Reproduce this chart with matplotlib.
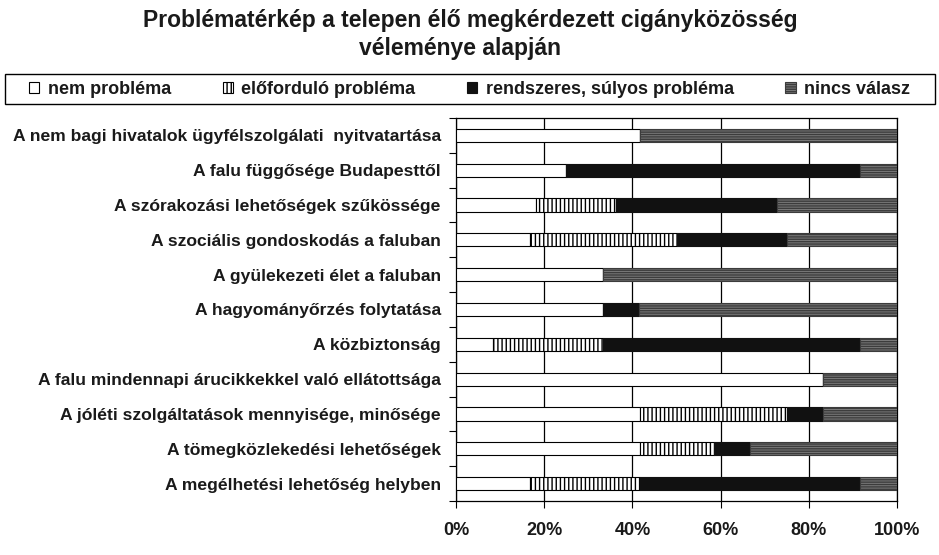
import matplotlib
matplotlib.use("Agg")
import matplotlib.pyplot as plt
from matplotlib.patches import Patch, Rectangle
import numpy as np

categories = [
    "A nem bagi hivatalok ügyfélszolgálati  nyitvatartása",
    "A falu függősége Budapesttől",
    "A szórakozási lehetőségek szűkössége",
    "A szociális gondoskodás a faluban",
    "A gyülekezeti élet a faluban",
    "A hagyományőrzés folytatása",
    "A közbiztonság",
    "A falu mindennapi árucikkekkel való ellátottsága",
    "A jóléti szolgáltatások mennyisége, minősége",
    "A tömegközlekedési lehetőségek",
    "A megélhetési lehetőség helyben",
]
series_names = ["nem probléma", "előforduló probléma",
                "rendszeres, súlyos probléma", "nincs válasz"]
nem_problema = [41.7, 25.0, 18.2, 16.7, 33.3, 33.3, 8.3, 83.3, 41.7, 41.7, 16.7]
eloforudlo = [0.0, 0.0, 18.0, 33.3, 0.0, 0.0, 25.0, 0.0, 33.3, 16.7, 25.0]
rendszeres = [0.0, 66.7, 36.7, 25.0, 0.0, 8.3, 58.3, 0.0, 8.3, 8.3, 50.0]
nincs_valasz = [58.3, 8.3, 27.1, 25.0, 66.7, 58.4, 8.4, 16.7, 16.7, 33.3, 8.3]
xtick_labels = ["0%", "20%", "40%", "60%", "80%", "100%"]

plt.rcParams['font.family'] = ['Liberation Sans', 'DejaVu Sans']
plt.rcParams['hatch.linewidth'] = 1.0

fig = plt.figure(figsize=(9.39, 5.55), dpi=100)
ax = fig.add_axes([456/939, 1-501/555, (897-456)/939, (501-118)/555])

series = [nem_problema, eloforudlo, rendszeres, nincs_valasz]
styles = [
    dict(facecolor="white", edgecolor="black", hatch=None),
    dict(facecolor="white", edgecolor="black", hatch="||||"),
    dict(facecolor="#111111", edgecolor="#111111", hatch=None),
    dict(facecolor="#7a7a7a", edgecolor="#3c3c3c", hatch="-------"),
]

y = np.arange(len(categories))
left = np.zeros(len(categories))
for vals, st in zip(series, styles):
    v = np.array(vals, dtype=float)
    ax.barh(y, v, left=left, height=0.38, linewidth=0.8, zorder=3, **st)
    left += v

ax.set_xlim(0, 100)
ax.set_ylim(len(categories) - 0.5, -0.5)
ax.set_xticks(np.linspace(0, 100, 6))
ax.set_xticklabels(xtick_labels, fontsize=13, fontweight="bold", color="#1a1a1a")
ax.set_yticks(y)
ax.set_yticklabels(categories, fontsize=12.6, fontweight="bold", color="#1a1a1a")
ax.tick_params(axis="y", length=0, pad=11)
ax.set_yticks(np.arange(len(categories) + 1) - 0.5, minor=True)
ax.tick_params(axis="y", which="minor", length=5, direction="out", width=0.8)
ax.tick_params(axis="x", length=5, direction="out", width=0.8, pad=10)
ax.grid(axis="x", color="black", linewidth=0.9, zorder=0)
for s in ax.spines.values():
    s.set_linewidth(0.9)
    s.set_color("black")

fig.text(470/939, 1-20/555, "Problématérkép a telepen élő megkérdezett cigányközösség",
         ha="center", va="center", fontsize=16.5, fontweight="bold", color="#1a1a1a")
fig.text(460/939, 1-48/555, "véleménye alapján",
         ha="center", va="center", fontsize=16.5, fontweight="bold", color="#1a1a1a")

# legend frame
fig.patches.append(Rectangle((5/939, 1-104/555), 930/939, 30/555,
                             transform=fig.transFigure, fill=False,
                             edgecolor="black", linewidth=1.0))
handles = [Patch(**st, linewidth=0.8) for st in styles]
leg = fig.legend(handles, series_names, loc="center",
                 bbox_to_anchor=(29/939, 1-104/555, (910-29)/939, 30/555),
                 mode="expand", ncol=4, frameon=False,
                 prop=dict(size=13, weight="bold"),
                 handlelength=0.58, handleheight=0.58, handletextpad=0.45,
                 borderpad=0, borderaxespad=0)
for t in leg.get_texts():
    t.set_color("#1a1a1a")

fig.savefig("out.png", dpi=100)
